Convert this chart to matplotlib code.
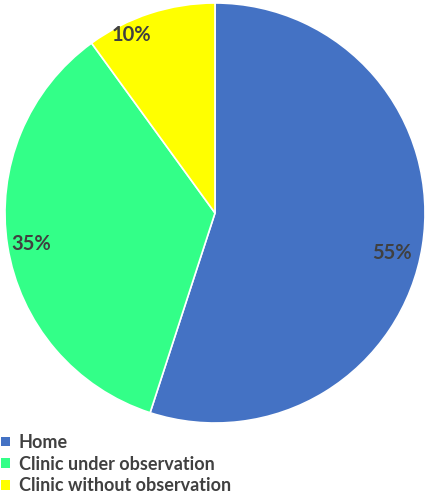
import matplotlib.pyplot as plt
from matplotlib.patches import Patch

labels = ["Home", "Clinic under observation", "Clinic without observation"]
shares = [55, 35, 10]
colors = ["#4472C4", "#33FF88", "#FFFF00"]

W, H = 429, 496
fig = plt.figure(figsize=(W / 100, H / 100), dpi=100)
ax = fig.add_axes([0, 0, 1, 1])

wedges, texts, autotexts = ax.pie(
    shares, colors=colors, startangle=90, counterclock=False,
    center=(215, H - 213), radius=210, frame=True,
    autopct="%d%%", pctdistance=0.87,
    wedgeprops=dict(edgecolor="white", linewidth=1.2),
    textprops=dict(fontsize=14.5, fontweight="bold", color="#404040", family="Lato"),
)
ax.set_xlim(0, W)
ax.set_ylim(0, H)
ax.set_aspect("equal")
ax.axis("off")

# nudge labels roughly where the source placed them
autotexts[0].set_position((392, H - 253))
autotexts[1].set_position((31, H - 244))
autotexts[2].set_position((131, H - 35))

handles = [Patch(facecolor=c, edgecolor="none") for c in colors]
fig.legend(handles, labels, loc="lower left", bbox_to_anchor=(-0.022, -0.018),
           frameon=False, handlelength=0.45, handleheight=0.45, handletextpad=0.5,
           labelspacing=0.25, borderaxespad=0.2,
           prop=dict(family="Lato", weight="bold", size=13), labelcolor="#404040")

fig.savefig("out.png", dpi=100)
